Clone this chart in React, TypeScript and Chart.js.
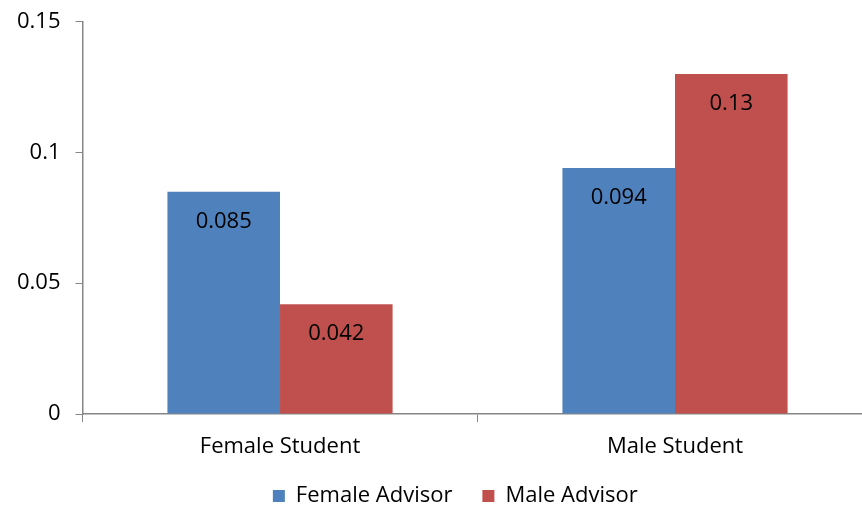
import React, { useEffect, useRef } from "react";
import { Chart, registerables } from "chart.js";

Chart.register(...registerables);

const categories = ["Female Student", "Male Student"];
const femaleAdvisor = [0.085, 0.094];
const maleAdvisor = [0.042, 0.13];
const seriesNames = ["Female Advisor", "Male Advisor"];
const yTicks = [0, 0.05, 0.1, 0.15];

const FONT = "'Open Sans', 'DejaVu Sans', sans-serif";
const AXIS = "#868686";
const TEXT = "#000";
const FS = 22;
const LEGEND_SHIFT = 18;

const labelPlugin = {
  id: "barLabels",
  afterLayout(chart: any) {
    if (chart.legend) {
      chart.legend.left += LEGEND_SHIFT;
      chart.legend.right += LEGEND_SHIFT;
    }
  },
  afterDatasetsDraw(chart: any) {
    const ctx = chart.ctx;
    ctx.save();
    ctx.font = `${FS}px ${FONT}`;
    ctx.fillStyle = TEXT;
    ctx.textAlign = "center";
    ctx.textBaseline = "middle";
    chart.data.datasets.forEach((ds: any, i: number) => {
      const meta = chart.getDatasetMeta(i);
      meta.data.forEach((el: any, j: number) => {
        const v = ds.data[j];
        ctx.fillText(String(v), el.x, el.y + 30);
      });
    });
    ctx.restore();
  },
};

export default function App() {
  const ref = useRef<HTMLCanvasElement>(null);
  useEffect(() => {
    if (!ref.current) return;
    const chart = new Chart(ref.current, {
      type: "bar",
      data: {
        labels: categories,
        datasets: [
          { label: seriesNames[0], data: femaleAdvisor, backgroundColor: "#4F81BD", borderWidth: 0 },
          { label: seriesNames[1], data: maleAdvisor, backgroundColor: "#C0504D", borderWidth: 0 },
        ],
      },
      options: {
        responsive: false,
        animation: false,
        devicePixelRatio: 1,
        layout: { padding: { top: 1, right: 7.5, left: 2, bottom: 0 } },
        datasets: { bar: { categoryPercentage: 0.57, barPercentage: 1 } },
        plugins: {
          legend: {
            position: "bottom",
            labels: {
              font: { family: FONT, size: FS },
              color: TEXT,
              boxWidth: 12,
              boxHeight: 12,
              padding: 30,
            },
          },
          tooltip: { enabled: false },
        },
        scales: {
          x: {
            afterFit: (s: any) => {
              s.height = 41;
            },
            grid: { drawOnChartArea: false, drawTicks: true, tickLength: 8, color: AXIS, offset: true },
            border: { display: true, color: AXIS, width: 1.5 },
            ticks: { font: { family: FONT, size: FS }, color: TEXT, padding: 12 },
          },
          y: {
            min: 0,
            max: 0.15,
            afterBuildTicks: (axis: any) => {
              axis.ticks = yTicks.map((v) => ({ value: v }));
            },
            grid: { drawOnChartArea: false, drawTicks: true, tickLength: 7, color: AXIS },
            border: { display: true, color: AXIS, width: 1.5 },
            ticks: {
              font: { family: FONT, size: FS, lineHeight: 0.6 },
              color: TEXT,
              padding: 15,
              callback: (v: any) => String(Number(Number(v).toFixed(2))),
            },
          },
        },
      },
      plugins: [labelPlugin],
    });
    return () => chart.destroy();
  }, []);
  return (
    <div style={{ position: "absolute", left: 0, top: 0, width: 862, height: 510, overflow: "hidden", background: "#fff" }}>
      <canvas ref={ref} width={880} height={517} style={{ display: "block" }} />
    </div>
  );
}
